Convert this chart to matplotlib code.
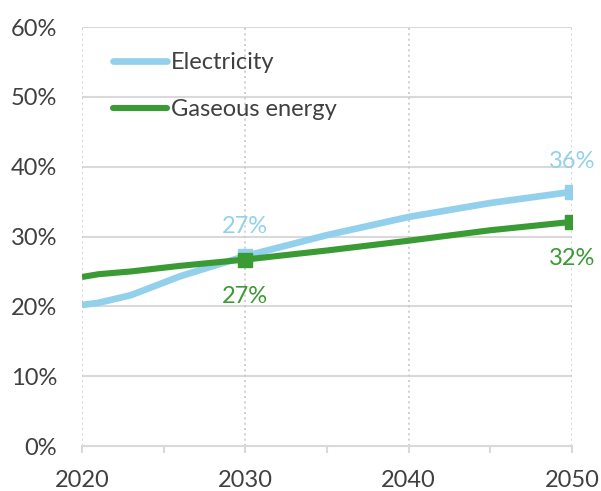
import matplotlib
matplotlib.use("Agg")
import matplotlib.pyplot as plt

plt.rcParams["font.family"] = ["Lato", "DejaVu Sans"]

# share of final energy demand, read at these years
years = [2020, 2021, 2023, 2026, 2030, 2035, 2040, 2045, 2050]
electricity = [20.2, 20.5, 21.6, 24.3, 27.2, 30.2, 32.8, 34.8, 36.4]
gaseous = [24.2, 24.6, 25.0, 25.8, 26.7, 28.0, 29.4, 30.9, 32.1]

label_years = [2030, 2050]
elec_labels = [27, 36]
gas_labels = [27, 32]

BLUE = "#92D0EC"
GREEN = "#3A9A34"
TEXT = "#404040"
GRID = "#d9d9d9"
FS = 17

fig = plt.figure(figsize=(6.01, 4.91), dpi=100)
ax = fig.add_axes([0.1364, 0.0916, 0.8153, 0.8534])

marks = [years.index(y) for y in label_years]
ax.plot(years, electricity, color=BLUE, lw=4.8, solid_capstyle="butt",
        marker="s", markevery=marks, ms=10, label="Electricity", zorder=3)
ax.plot(years, gaseous, color=GREEN, lw=4.4, solid_capstyle="butt",
        marker="s", markevery=marks, ms=10, label="Gaseous energy", zorder=4)

for yr, e, g in zip(label_years, elec_labels, gas_labels):
    ey = electricity[years.index(yr)]
    gy = gaseous[years.index(yr)]
    ax.annotate(f"{e}%", (yr, ey), xytext=(0, 14), textcoords="offset points",
                ha="center", va="bottom", color=BLUE, fontsize=FS)
    ax.annotate(f"{g}%", (yr, gy), xytext=(0, -19), textcoords="offset points",
                ha="center", va="top", color=GREEN, fontsize=FS)

ax.set_xlim(2020, 2050)
ax.set_ylim(0, 60)

# horizontal solid grid, vertical dotted grid
for v in range(10, 61, 10):
    ax.axhline(v, color=GRID, lw=1.5, zorder=1)
for yr in [2020, 2030, 2040, 2050]:
    ax.axvline(yr, color="#c8c8c8", lw=1.2, ls=(0, (1.2, 2)), zorder=1)

for s in ["top", "right", "left"]:
    ax.spines[s].set_visible(False)
ax.spines["bottom"].set_color(GRID)
ax.spines["bottom"].set_linewidth(1.5)

ax.set_xticks([2020, 2030, 2040, 2050])
ax.set_xticks([2025, 2035, 2045], minor=True)
ax.tick_params(axis="x", which="both", direction="out", length=5, width=1.5,
               color=GRID, labelsize=FS, labelcolor=TEXT, pad=12)
ax.set_yticks(range(0, 61, 10))
ax.set_yticklabels([f"{v}%" for v in range(0, 61, 10)])
ax.tick_params(axis="y", length=0, labelsize=FS, labelcolor=TEXT, pad=18)

leg = ax.legend(loc="upper left", bbox_to_anchor=(0.02, 0.99), frameon=False,
                fontsize=FS, handlelength=2.3, handletextpad=0.15,
                labelspacing=1.1)
for t in leg.get_texts():
    t.set_color(TEXT)
for h in leg.legend_handles:
    h.set_marker("")
    h.set_solid_capstyle("round")

fig.savefig("out.png", dpi=100)
